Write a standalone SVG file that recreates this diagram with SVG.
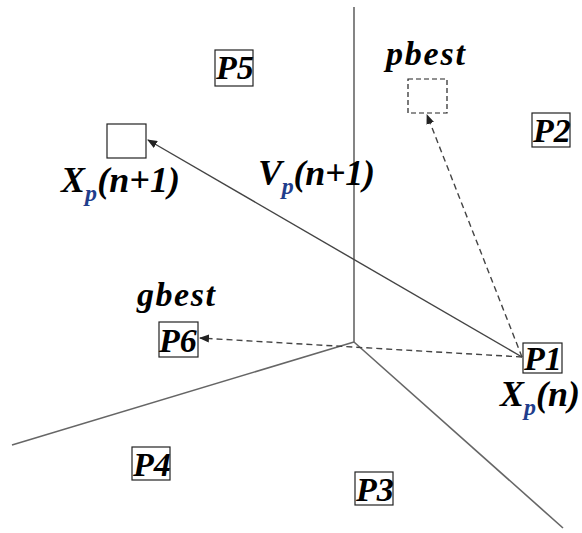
<svg xmlns="http://www.w3.org/2000/svg" width="582" height="533" viewBox="0 0 582 533">
<style>
.lbl{font-family:"Liberation Serif","Times New Roman",serif;font-style:italic;font-weight:bold;font-size:34px;fill:#000}
.big{font-size:36px}
.sub{font-size:24px;fill:#1f3e8c}
.box{fill:#fff;stroke:#222;stroke-width:1.2}
.dbox{fill:#fff;stroke:#222;stroke-width:1.2;stroke-dasharray:5,3}
.axis{stroke:#666;stroke-width:1.6;fill:none}
.arr{stroke:#444;stroke-width:1.4;fill:none}
.dash{stroke:#444;stroke-width:1.4;fill:none;stroke-dasharray:6,4}
</style>
<defs>
<marker id="ah" markerWidth="10" markerHeight="8" refX="9" refY="4" orient="auto" markerUnits="userSpaceOnUse">
<path d="M0,0 L10,4 L0,8 Z" fill="#222"/>
</marker>
</defs>
<rect width="582" height="533" fill="#fff"/>
<g id="connectors">
<line class="axis" x1="354" y1="7" x2="354" y2="342"/>
<line class="axis" x1="354" y1="342" x2="12" y2="445"/>
<line class="axis" x1="354" y1="342" x2="563" y2="528"/>
<line class="arr" x1="522" y1="357" x2="148" y2="140" marker-end="url(#ah)"/>
<line class="dash" x1="522" y1="357" x2="427" y2="115" marker-end="url(#ah)"/>
<line class="dash" x1="522" y1="357" x2="200" y2="338" marker-end="url(#ah)"/>
</g>
<g id="P5"><rect class="box" x="215" y="50" width="38" height="36"/><text class="lbl" x="216" y="79">P5</text></g>
<g id="pbest"><text class="lbl" x="386" y="65" textLength="79">pbest</text><rect class="dbox" x="408" y="79" width="39" height="34"/></g>
<g id="P2"><rect class="box" x="532" y="113" width="38" height="34"/><text class="lbl" x="533" y="142">P2</text></g>
<g id="Xpn1"><rect class="box" x="107" y="124" width="39" height="34"/><text class="lbl big" x="61" y="192" textLength="119">X<tspan class="sub" dy="9">p</tspan><tspan dy="-9">(n+1)</tspan></text></g>
<g id="Vpn1"><text class="lbl big" x="258" y="185" textLength="117">V<tspan class="sub" dy="9">p</tspan><tspan dy="-9">(n+1)</tspan></text></g>
<g id="P6"><text class="lbl" x="137" y="306" textLength="78">gbest</text><rect class="box" x="159" y="322" width="39" height="35"/><text class="lbl" x="159" y="352">P6</text></g>
<g id="P1"><rect class="box" x="523" y="343" width="39" height="30"/><text class="lbl" x="524" y="370">P1</text><text class="lbl big" x="500" y="406" textLength="80">X<tspan class="sub" dy="9">p</tspan><tspan dy="-9">(n)</tspan></text></g>
<g id="P4"><rect class="box" x="132" y="447" width="38" height="33"/><text class="lbl" x="133" y="476">P4</text></g>
<g id="P3"><rect class="box" x="355" y="472" width="38" height="33"/><text class="lbl" x="356" y="501">P3</text></g>
</svg>
